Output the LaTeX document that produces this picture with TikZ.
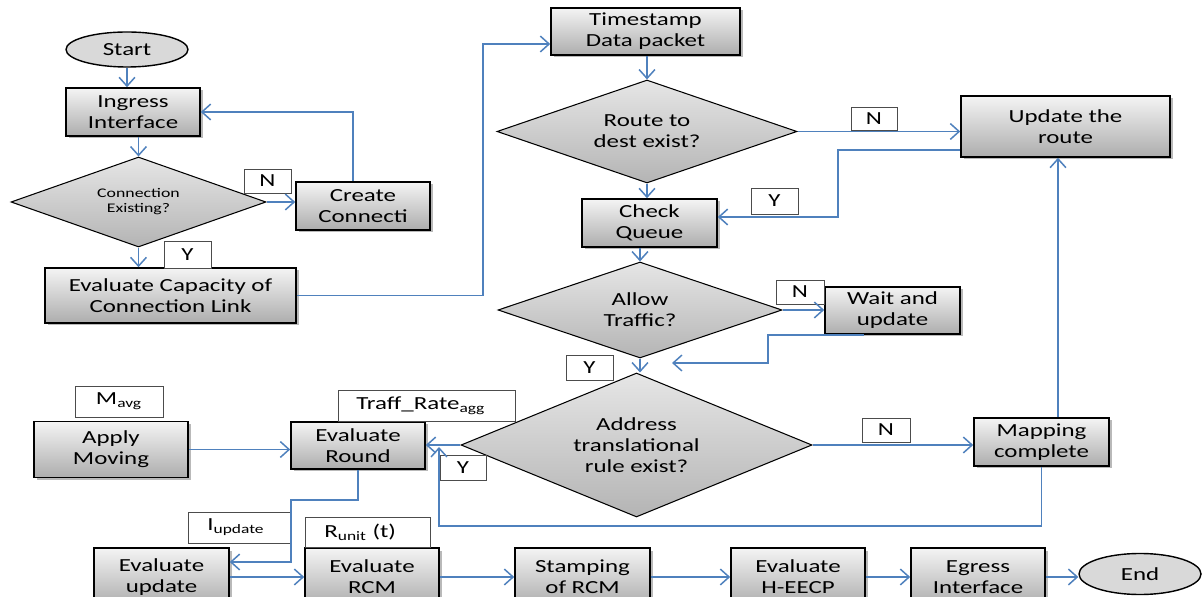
\documentclass[tikz,border=0pt]{standalone}
\usepackage{fontspec}
\setmainfont{Carlito}[FakeStretch=1.35]
\usetikzlibrary{shapes.geometric,arrows.meta,shadows}
\definecolor{lineblue}{HTML}{4F81BD}
\definecolor{boxtop}{HTML}{F4F4F4}
\definecolor{boxbot}{HTML}{ADADAD}
\definecolor{diatop}{HTML}{E6E6E6}
\definecolor{diabot}{HTML}{B4B4B4}
\definecolor{ovalfill}{HTML}{D9D9D9}
\begin{document}
\begin{tikzpicture}[x=0.02cm,y=-0.02cm,
  wh/.style 2 args={minimum width=#1*0.02cm, minimum height=#2*0.02cm},
  mainfont/.style={font=\fontsize{10.5}{12}\selectfont},
  box/.style={rectangle, draw=black, line width=0.9pt, top color=boxtop, bottom color=boxbot,
    inner sep=0pt, align=center, mainfont,
    drop shadow={shadow xshift=0.05cm, shadow yshift=-0.05cm, opacity=0.55}},
  dia/.style={diamond, draw=black, line width=0.6pt, top color=diatop, bottom color=diabot, inner sep=0pt},
  oval/.style={ellipse, draw=black, line width=0.8pt, fill=ovalfill, inner sep=0pt, mainfont},
  lbl/.style={rectangle, draw=black!70, line width=0.5pt, fill=white, inner sep=0pt, mainfont},
  txt/.style={align=center, inner sep=0pt, mainfont},
  arr/.style={draw=lineblue, line width=0.85pt, -{Straight Barb[length=5pt,width=9pt]}},
  ln/.style={draw=lineblue, line width=0.85pt}
]
\clip (0,0) rectangle (1203,597);
\fill[white] (0,0) rectangle (1203,597);

% ---- main nodes ----
\node[oval, wh={122}{35}] (start) at (127,49.5) {Start};
\node[box, wh={134}{48}] (ingress) at (133,112) {Ingress\\Interface};
\node[dia, wh={255}{90}] (conn) at (138.5,202) {};
\node[txt, font=\fontsize{7.5}{8.6}\selectfont] (conn-t) at (138.5,202) {Connection\\Existing?};
\node[box, wh={134}{48}] (create) at (363,206) {Create\\Connecti};
\node[box, wh={251}{55}] (evalcap) at (170.5,295.5) {Evaluate Capacity of\\Connection Link};

\node[box, wh={189}{47}] (ts) at (645.5,31.5) {Timestamp\\Data packet};
\node[dia, wh={300}{103}] (route) at (647,131.5) {};
\node[txt] (route-t) at (647,131.5) {Route to\\dest exist?};
\node[box, wh={209}{61}] (upd) at (1065.5,126.5) {Update the\\route};
\node[box, wh={135}{48}] (chk) at (649.5,223) {Check\\Queue};
\node[dia, wh={284}{96}] (allow) at (640,310) {};
\node[txt] (allow-t) at (640,310) {Allow\\Traffic?};
\node[box, wh={135}{47}] (wait) at (892.5,310.5) {Wait and\\update};
\node[dia, wh={351}{144}] (addr) at (636.5,445) {};
\node[txt] (addr-t) at (636.5,445) {Address\\translational\\rule exist?};
\node[box, wh={135}{48}] (map) at (1041.5,442) {Mapping\\complete};

\node[box, wh={154}{56}] (apply) at (111,449.5) {Apply\\Moving};
\node[box, wh={134}{47}] (round) at (358,445.5) {Evaluate\\Round};

\node[box, wh={135}{58}] (evup) at (161.5,577) {Evaluate\\update};
\node[box, wh={134}{58}] (rcm) at (372,577) {Evaluate\\RCM};
\node[box, wh={135}{58}] (stamp) at (582.5,577) {Stamping\\of RCM};
\node[box, wh={134}{58}] (heecp) at (798,577) {Evaluate\\H-EECP};
\node[box, wh={134}{58}] (egress) at (978,577) {Egress\\Interface};
\node[oval, wh={122}{41}] (end) at (1140,574) {End};

% ---- label boxes ----
\node[lbl, wh={47}{24}] (n1) at (267.5,181) {N};
\node[lbl, wh={47}{27}] (y1) at (187.5,254.5) {Y};
\node[lbl, wh={46}{23}] (n2) at (874,118.5) {N};
\node[lbl, wh={47}{26}] (y2) at (774.5,201) {Y};
\node[lbl, wh={48}{24}] (n3) at (800,292) {N};
\node[lbl, wh={47}{25}] (y3) at (589.5,367.5) {Y};
\node[lbl, wh={48}{24}] (n4) at (886,430) {N};
\node[lbl, wh={46}{25}] (y4) at (463,467.5) {Y};
\node[lbl, wh={88}{31}] (mavg) at (119,401.5) {M\textsubscript{avg}};
\node[lbl, wh={177}{31}] (traff) at (426.5,405.5) {};
\node[txt, anchor=west] (traff-t) at (356,405.5) {Traff\_Rate\textsubscript{agg}};
\node[lbl, wh={103}{31}] (iupd) at (239.5,527.5) {};
\node[txt, anchor=west] (iupd-t) at (207,527.5) {I\textsubscript{update}};
\node[lbl, wh={125}{30}] (runit) at (367.5,532) {};
\node[txt, anchor=west] (runit-t) at (324,532) {R\textsubscript{unit} (t)};

% ---- helper coordinates ----
\coordinate (b1) at (483,44);
\coordinate (b2) at (838,150);
\coordinate (b3) at (768,363);
\coordinate (e3) at (672,363);
\coordinate (c4) at (1058,0);
\coordinate (b5) at (439,526);
\coordinate (e5) at (439,447);
\coordinate (b6) at (291,500);

% ---- connectors ----
\draw[arr] (start.south) -- (start.south |- ingress.north);
\draw[arr] (conn.north |- ingress.south) -- (conn.north);
\draw[arr] (conn.east) -- (conn.east -| create.west);
\draw[arr] ([xshift=-0.2cm]create.north) |- (ingress.east);
\draw[arr] (conn.south) -- (conn.south |- evalcap.north);
\draw[arr] (evalcap.east) -| (b1) -- (b1 -| ts.west);

\draw[arr] (route.north |- ts.south) -- (route.north);
\draw[arr] (route.east) -- (route.east -| upd.west);
\draw[arr] (upd.west |- b2) -- (b2) |- ([yshift=0.12cm]chk.east);
\draw[arr] (route.south) -- (route.south |- chk.north);
\draw[arr] (allow.north |- chk.south) -- (allow.north);
\draw[arr] (allow.east) -- (allow.east -| wait.west);
\draw[arr] ([xshift=-0.57cm]wait.south) -| (b3) -- (e3);
\draw[arr] (allow.south) -- (allow.south |- addr.north);
\draw[arr] (addr.east) -- (addr.east -| map.west);
\draw[arr] (map.north -| c4) -- (upd.south -| c4);
\draw[arr] (addr.west) -- (addr.west -| round.east);
\draw[arr] (map.south) |- (b5) -- (e5);

\draw[arr] (apply.east) -- (apply.east -| round.west);
\draw[arr] (round.south) |- (b6) |- ([yshift=0.3cm]evup.east);
\draw[arr] (evup.east) -- (rcm.west);
\draw[arr] (rcm.east) -- (stamp.west);
\draw[arr] (stamp.east) -- (heecp.west);
\draw[arr] (heecp.east) -- (egress.west);
\draw[arr] (egress.east) -- (egress.east -| end.west);
\end{tikzpicture}
\end{document}
